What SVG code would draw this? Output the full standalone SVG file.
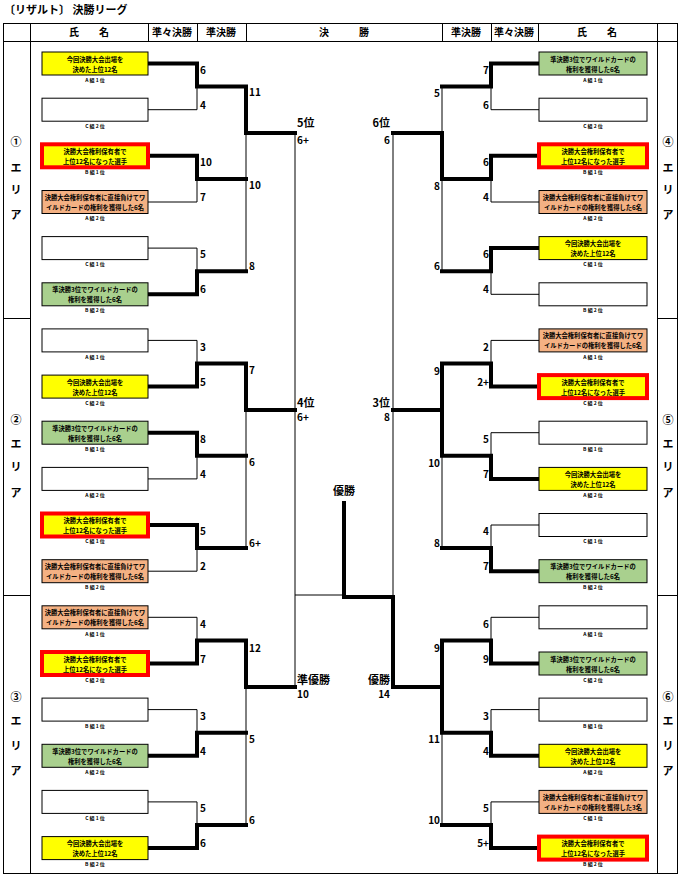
<svg xmlns="http://www.w3.org/2000/svg" width="680" height="878" viewBox="0 0 680 878">
<style>
text{font-family:"Noto Sans CJK JP","Liberation Sans",sans-serif;fill:#000}
.t{font-size:11px;font-weight:bold}
.h{font-size:10px;font-weight:bold;text-anchor:middle}
.a{font-size:11px;font-weight:bold;text-anchor:middle}
.b{font-size:6.3px;font-weight:bold;text-anchor:middle}
.l{font-size:5px;font-weight:bold;text-anchor:middle}
.s{font-size:10px;font-weight:bold}
.e{text-anchor:end}
.f{font-size:11px;font-weight:bold}
.grid{stroke:#000;stroke-width:1;fill:none}
.bx{stroke:#000;stroke-width:1}
.y{fill:#ffff00}.g{fill:#a9d08e}.o{fill:#f4b183}.w{fill:#fff}
.r{fill:#ffff00;stroke:#ff0000;stroke-width:4}
.thin{stroke:#000;stroke-width:1;fill:none}
.thick{stroke:#000;stroke-width:4;fill:none;stroke-linejoin:miter;stroke-linecap:square}
</style>
<text class="t" x="4" y="14">〔リザルト〕 決勝リーグ</text>
<g id="table" class="grid">
<rect x="3.5" y="23.5" width="674" height="850"/>
<line x1="3" y1="41.5" x2="678" y2="41.5"/>
<line x1="30.5" y1="23" x2="30.5" y2="874"/>
<line x1="657.5" y1="23" x2="657.5" y2="874"/>
<line x1="148.5" y1="23" x2="148.5" y2="41"/>
<line x1="197.5" y1="23" x2="197.5" y2="41"/>
<line x1="246.5" y1="23" x2="246.5" y2="41"/>
<line x1="442.5" y1="23" x2="442.5" y2="41"/>
<line x1="491.5" y1="23" x2="491.5" y2="41"/>
<line x1="538.5" y1="23" x2="538.5" y2="41"/>
<line x1="3" y1="318.5" x2="30" y2="318.5"/>
<line x1="3" y1="595.5" x2="30" y2="595.5"/>
<line x1="657" y1="318.5" x2="678" y2="318.5"/>
<line x1="657" y1="595.5" x2="678" y2="595.5"/>
</g>
<g id="header">
<text class="h" x="89" y="36">氏　　名</text>
<text class="h" x="172" y="36">準々決勝</text>
<text class="h" x="221" y="36">準決勝</text>
<text class="h" x="344" y="36">決　　　勝</text>
<text class="h" x="466" y="36">準決勝</text>
<text class="h" x="514" y="36">準々決勝</text>
<text class="h" x="597" y="36">氏　　名</text>
</g>
<g id="areas">
<text class="a" x="16" y="146">①</text><text class="a" x="16" y="172">エ</text><text class="a" x="16" y="194">リ</text><text class="a" x="16" y="219">ア</text>
<text class="a" x="16" y="424">②</text><text class="a" x="16" y="448">エ</text><text class="a" x="16" y="471">リ</text><text class="a" x="16" y="497">ア</text>
<text class="a" x="16" y="701">③</text><text class="a" x="16" y="725">エ</text><text class="a" x="16" y="750">リ</text><text class="a" x="16" y="775">ア</text>
<text class="a" x="668" y="146">④</text><text class="a" x="668" y="172">エ</text><text class="a" x="668" y="194">リ</text><text class="a" x="668" y="219">ア</text>
<text class="a" x="668" y="424">⑤</text><text class="a" x="668" y="448">エ</text><text class="a" x="668" y="471">リ</text><text class="a" x="668" y="497">ア</text>
<text class="a" x="668" y="701">⑥</text><text class="a" x="668" y="725">エ</text><text class="a" x="668" y="750">リ</text><text class="a" x="668" y="775">ア</text>
</g>
<g id="connectors">
<path class="thin" d="M148 109.7H197V86.6M148 202H197V178.9M148 248.1H197V271.2M246 133V271.2M148 340.4H197V363.5M148 478.9H197V455.8M148 571.2H197V548.1M246 410V548.1M148 617.3H197V640.4M148 709.6H197V732.7M148 801.9H197V825M246 687V825M295 133V687M295 595H344M393 133V595M539 109.7H491V86.6M539 202H491V178.9M539 294.3H491V271.2M442 86.6V133M442 178.9V271.2M539 340.4H491V363.5M539 432.7H491V455.8M539 525H491V548.1M442 455.8V548.1M539 617.3H491V640.4M539 709.6H491V732.7M539 801.9H491V825M442 732.7V825"/>
<path class="thick" d="M148 63.5H197V86.6H246V133H295M148 155.8H197V178.9H246M148 294.3H197V271.2H246M148 386.6H197V363.5H246V410H295M148 432.7H197V455.8H246M148 525H197V548.1H246M148 663.5H197V640.4H246V687H295M148 755.8H197V732.7H246M148 848.1H197V825H246M344 503V597H393V687H442M539 63.5H491V86.6H442M539 155.8H491V178.9H442V133H393M539 248.1H491V271.2H442M539 386.6H491V363.5H442V455.8M442 410H393M539 478.9H491V455.8H442M539 571.2H491V548.1H442M539 663.5H491V640.4H442V732.7M539 755.8H491V732.7H442M539 848.1H491V825H442"/>
</g>
<g id="scores">
<text class="s" x="200" y="74">6</text><text class="s" x="200" y="109">4</text><text class="s" x="200" y="166">10</text><text class="s" x="200" y="201">7</text><text class="s" x="200" y="258">5</text><text class="s" x="200" y="293">6</text>
<text class="s" x="200" y="351">3</text><text class="s" x="200" y="386">5</text><text class="s" x="200" y="443">8</text><text class="s" x="200" y="478">4</text><text class="s" x="200" y="535">5</text><text class="s" x="200" y="570">2</text>
<text class="s" x="200" y="628">4</text><text class="s" x="200" y="663">7</text><text class="s" x="200" y="720">3</text><text class="s" x="200" y="755">4</text><text class="s" x="200" y="812">5</text><text class="s" x="200" y="847">6</text>
<text class="s" x="249" y="96">11</text><text class="s" x="249" y="189">10</text><text class="s" x="249" y="270">8</text>
<text class="s" x="249" y="374">7</text><text class="s" x="249" y="466">6</text><text class="s" x="249" y="547">6+</text>
<text class="s" x="249" y="652">12</text><text class="s" x="249" y="743">5</text><text class="s" x="249" y="824">6</text>
<g class="e">
<text class="s e" x="489" y="74">7</text><text class="s e" x="489" y="109">6</text><text class="s e" x="489" y="166">6</text><text class="s e" x="489" y="201">4</text><text class="s e" x="489" y="258">6</text><text class="s e" x="489" y="293">4</text>
<text class="s e" x="489" y="351">2</text><text class="s e" x="489" y="386">2+</text><text class="s e" x="489" y="443">5</text><text class="s e" x="489" y="478">7</text><text class="s e" x="489" y="535">4</text><text class="s e" x="489" y="570">7</text>
<text class="s e" x="489" y="628">6</text><text class="s e" x="489" y="663">9</text><text class="s e" x="489" y="720">3</text><text class="s e" x="489" y="755">4</text><text class="s e" x="489" y="812">5</text><text class="s e" x="489" y="847">5+</text>
<text class="s e" x="440" y="97">5</text><text class="s e" x="440" y="190">8</text><text class="s e" x="440" y="270">6</text>
<text class="s e" x="440" y="375">9</text><text class="s e" x="440" y="467">10</text><text class="s e" x="440" y="547">8</text>
<text class="s e" x="440" y="652">9</text><text class="s e" x="440" y="743">11</text><text class="s e" x="440" y="824">10</text>
</g>
<text class="f" x="297" y="127">5位</text><text class="s" x="297" y="144">6+</text>
<text class="f" x="297" y="407">4位</text><text class="s" x="297" y="421">6+</text>
<text class="f" x="297" y="684">準優勝</text><text class="s" x="297" y="698">10</text>
<text class="f e" x="390" y="127">6位</text><text class="s e" x="390" y="144">6</text>
<text class="f e" x="390" y="407">3位</text><text class="s e" x="390" y="421">8</text>
<text class="f e" x="390" y="684">優勝</text><text class="s e" x="390" y="698">14</text>
<text class="f" x="344" y="495" text-anchor="middle">優勝</text>
</g>
<g id="L0"><rect class="bx y" x="42" y="52" width="106" height="23"/><text class="b" x="95" y="61.5">今回決勝大会出場を</text><text class="b" x="95" y="71.5">決めた上位12名</text><text class="l" x="95" y="82">A 組 1 位</text></g>
<g id="L1"><rect class="bx w" x="42" y="98.2" width="106" height="23"/><text class="l" x="95" y="128">C 組 2 位</text></g>
<g id="L2"><rect class="r" x="42" y="144.3" width="106" height="23"/><text class="b" x="95" y="153.8">決勝大会権利保有者で</text><text class="b" x="95" y="163.8">上位12名になった選手</text><text class="l" x="95" y="174">B 組 1 位</text></g>
<g id="L3"><rect class="bx o" x="42" y="190.5" width="106" height="23"/><text class="b" x="95" y="200">決勝大会権利保有者に直接負けてワ</text><text class="b" x="95" y="210">イルドカードの権利を獲得した6名</text><text class="l" x="95" y="220">A 組 2 位</text></g>
<g id="L4"><rect class="bx w" x="42" y="236.6" width="106" height="23"/><text class="l" x="95" y="266">C 組 1 位</text></g>
<g id="L5"><rect class="bx g" x="42" y="282.8" width="106" height="23"/><text class="b" x="95" y="292.3">準決勝3位でワイルドカードの</text><text class="b" x="95" y="302.3">権利を獲得した6名</text><text class="l" x="95" y="312">B 組 2 位</text></g>
<g id="L6"><rect class="bx w" x="42" y="328.9" width="106" height="23"/><text class="l" x="95" y="359">A 組 1 位</text></g>
<g id="L7"><rect class="bx y" x="42" y="375.1" width="106" height="23"/><text class="b" x="95" y="384.6">今回決勝大会出場を</text><text class="b" x="95" y="394.6">決めた上位12名</text><text class="l" x="95" y="405">C 組 2 位</text></g>
<g id="L8"><rect class="bx g" x="42" y="421.2" width="106" height="23"/><text class="b" x="95" y="430.7">準決勝3位でワイルドカードの</text><text class="b" x="95" y="440.7">権利を獲得した6名</text><text class="l" x="95" y="451">B 組 1 位</text></g>
<g id="L9"><rect class="bx w" x="42" y="467.4" width="106" height="23"/><text class="l" x="95" y="497">A 組 2 位</text></g>
<g id="L10"><rect class="r" x="42" y="513.5" width="106" height="23"/><text class="b" x="95" y="523">決勝大会権利保有者で</text><text class="b" x="95" y="533">上位12名になった選手</text><text class="l" x="95" y="543">C 組 1 位</text></g>
<g id="L11"><rect class="bx o" x="42" y="559.7" width="106" height="23"/><text class="b" x="95" y="569.2">決勝大会権利保有者に直接負けてワ</text><text class="b" x="95" y="579.2">イルドカードの権利を獲得した6名</text><text class="l" x="95" y="589">B 組 2 位</text></g>
<g id="L12"><rect class="bx o" x="42" y="605.8" width="106" height="23"/><text class="b" x="95" y="615.3">決勝大会権利保有者に直接負けてワ</text><text class="b" x="95" y="625.3">イルドカードの権利を獲得した6名</text><text class="l" x="95" y="636">A 組 1 位</text></g>
<g id="L13"><rect class="r" x="42" y="652" width="106" height="23"/><text class="b" x="95" y="661.5">決勝大会権利保有者で</text><text class="b" x="95" y="671.5">上位12名になった選手</text><text class="l" x="95" y="682">C 組 2 位</text></g>
<g id="L14"><rect class="bx w" x="42" y="698.1" width="106" height="23"/><text class="l" x="95" y="728">B 組 1 位</text></g>
<g id="L15"><rect class="bx g" x="42" y="744.3" width="106" height="23"/><text class="b" x="95" y="753.8">準決勝3位でワイルドカードの</text><text class="b" x="95" y="763.8">権利を獲得した6名</text><text class="l" x="95" y="774">A 組 2 位</text></g>
<g id="L16"><rect class="bx w" x="42" y="790.4" width="106" height="23"/><text class="l" x="95" y="820">C 組 1 位</text></g>
<g id="L17"><rect class="bx y" x="42" y="836.6" width="106" height="23"/><text class="b" x="95" y="846.1">今回決勝大会出場を</text><text class="b" x="95" y="856.1">決めた上位12名</text><text class="l" x="95" y="866">B 組 2 位</text></g>
<g id="R0"><rect class="bx g" x="539" y="52" width="108" height="23"/><text class="b" x="593" y="61.5">準決勝3位でワイルドカードの</text><text class="b" x="593" y="71.5">権利を獲得した6名</text><text class="l" x="593" y="82">A 組 1 位</text></g>
<g id="R1"><rect class="bx w" x="539" y="98.2" width="108" height="23"/><text class="l" x="593" y="128">C 組 2 位</text></g>
<g id="R2"><rect class="r" x="539" y="144.3" width="108" height="23"/><text class="b" x="593" y="153.8">決勝大会権利保有者で</text><text class="b" x="593" y="163.8">上位12名になった選手</text><text class="l" x="593" y="174">B 組 1 位</text></g>
<g id="R3"><rect class="bx o" x="539" y="190.5" width="108" height="23"/><text class="b" x="593" y="200">決勝大会権利保有者に直接負けてワ</text><text class="b" x="593" y="210">イルドカードの権利を獲得した6名</text><text class="l" x="593" y="220">A 組 2 位</text></g>
<g id="R4"><rect class="bx y" x="539" y="236.6" width="108" height="23"/><text class="b" x="593" y="246.1">今回決勝大会出場を</text><text class="b" x="593" y="256.1">決めた上位12名</text><text class="l" x="593" y="266">C 組 1 位</text></g>
<g id="R5"><rect class="bx w" x="539" y="282.8" width="108" height="23"/><text class="l" x="593" y="312">B 組 2 位</text></g>
<g id="R6"><rect class="bx o" x="539" y="328.9" width="108" height="23"/><text class="b" x="593" y="338.4">決勝大会権利保有者に直接負けてワ</text><text class="b" x="593" y="348.4">イルドカードの権利を獲得した6名</text><text class="l" x="593" y="359">A 組 1 位</text></g>
<g id="R7"><rect class="r" x="539" y="375.1" width="108" height="23"/><text class="b" x="593" y="384.6">決勝大会権利保有者で</text><text class="b" x="593" y="394.6">上位12名になった選手</text><text class="l" x="593" y="405">C 組 2 位</text></g>
<g id="R8"><rect class="bx w" x="539" y="421.2" width="108" height="23"/><text class="l" x="593" y="451">B 組 1 位</text></g>
<g id="R9"><rect class="bx y" x="539" y="467.4" width="108" height="23"/><text class="b" x="593" y="476.9">今回決勝大会出場を</text><text class="b" x="593" y="486.9">決めた上位12名</text><text class="l" x="593" y="497">A 組 2 位</text></g>
<g id="R10"><rect class="bx w" x="539" y="513.5" width="108" height="23"/><text class="l" x="593" y="543">C 組 1 位</text></g>
<g id="R11"><rect class="bx g" x="539" y="559.7" width="108" height="23"/><text class="b" x="593" y="569.2">準決勝3位でワイルドカードの</text><text class="b" x="593" y="579.2">権利を獲得した6名</text><text class="l" x="593" y="589">B 組 2 位</text></g>
<g id="R12"><rect class="bx w" x="539" y="605.8" width="108" height="23"/><text class="l" x="593" y="636">A 組 1 位</text></g>
<g id="R13"><rect class="bx g" x="539" y="652" width="108" height="23"/><text class="b" x="593" y="661.5">準決勝3位でワイルドカードの</text><text class="b" x="593" y="671.5">権利を獲得した6名</text><text class="l" x="593" y="682">C 組 2 位</text></g>
<g id="R14"><rect class="bx w" x="539" y="698.1" width="108" height="23"/><text class="l" x="593" y="728">B 組 1 位</text></g>
<g id="R15"><rect class="bx y" x="539" y="744.3" width="108" height="23"/><text class="b" x="593" y="753.8">今回決勝大会出場を</text><text class="b" x="593" y="763.8">決めた上位12名</text><text class="l" x="593" y="774">A 組 2 位</text></g>
<g id="R16"><rect class="bx o" x="539" y="790.4" width="108" height="23"/><text class="b" x="593" y="799.9">決勝大会権利保有者に直接負けてワ</text><text class="b" x="593" y="809.9">イルドカードの権利を獲得した3名</text><text class="l" x="593" y="820">C 組 1 位</text></g>
<g id="R17"><rect class="r" x="539" y="836.6" width="108" height="23"/><text class="b" x="593" y="846.1">決勝大会権利保有者で</text><text class="b" x="593" y="856.1">上位12名になった選手</text><text class="l" x="593" y="866">B 組 2 位</text></g>
</svg>
